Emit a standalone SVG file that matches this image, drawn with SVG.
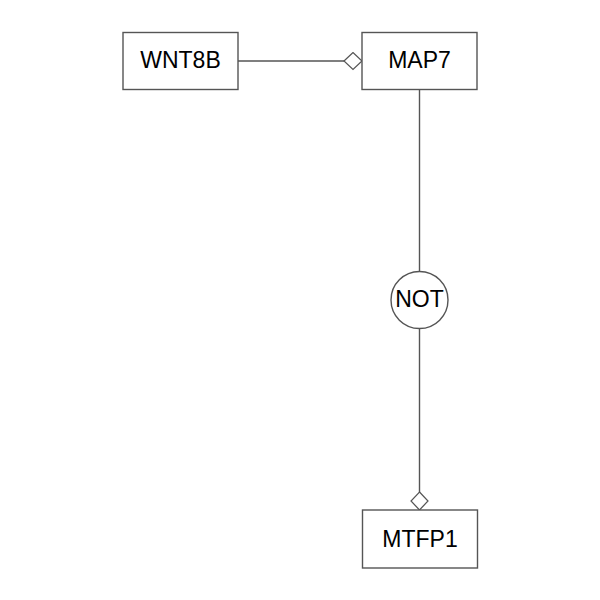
<svg xmlns="http://www.w3.org/2000/svg" width="600" height="600" viewBox="0 0 600 600">
<style>
.box{fill:#fff;stroke:#555;stroke-width:1.4}
.lbl{font-family:"Liberation Sans",Arial,Helvetica,sans-serif;font-size:23px;fill:#000;text-anchor:middle}
.edge{fill:none;stroke:#555;stroke-width:1.4}
</style>
<defs>
<marker id="dia" markerWidth="20" markerHeight="20" refX="19" refY="9.5" orient="auto" markerUnits="userSpaceOnUse">
<path d="M1,9.5 L10,1 L19,9.5 L10,18 Z" fill="#fff" stroke="#555" stroke-width="1.2"/>
</marker>
</defs>
<rect width="600" height="600" fill="#fff"/>
<g id="connectors">
<line class="edge" x1="238" y1="61" x2="362" y2="61" marker-end="url(#dia)"/>
<line class="edge" x1="419.5" y1="89" x2="419.5" y2="271.5"/>
<line class="edge" x1="419.5" y1="328.5" x2="419.5" y2="510" marker-end="url(#dia)"/>
</g>
<g id="WNT8B">
<rect class="box" x="123" y="32.5" width="115" height="57"/>
<text class="lbl" x="180.5" y="67.5">WNT8B</text>
</g>
<g id="MAP7">
<rect class="box" x="362" y="32.5" width="115" height="57"/>
<text class="lbl" x="419.5" y="67.5">MAP7</text>
</g>
<g id="NOT">
<circle class="box" cx="419.5" cy="300" r="28.5"/>
<text class="lbl" x="419.5" y="307">NOT</text>
</g>
<g id="MTFP1">
<rect class="box" x="362.5" y="510" width="115" height="58"/>
<text class="lbl" x="420" y="547">MTFP1</text>
</g>
</svg>
